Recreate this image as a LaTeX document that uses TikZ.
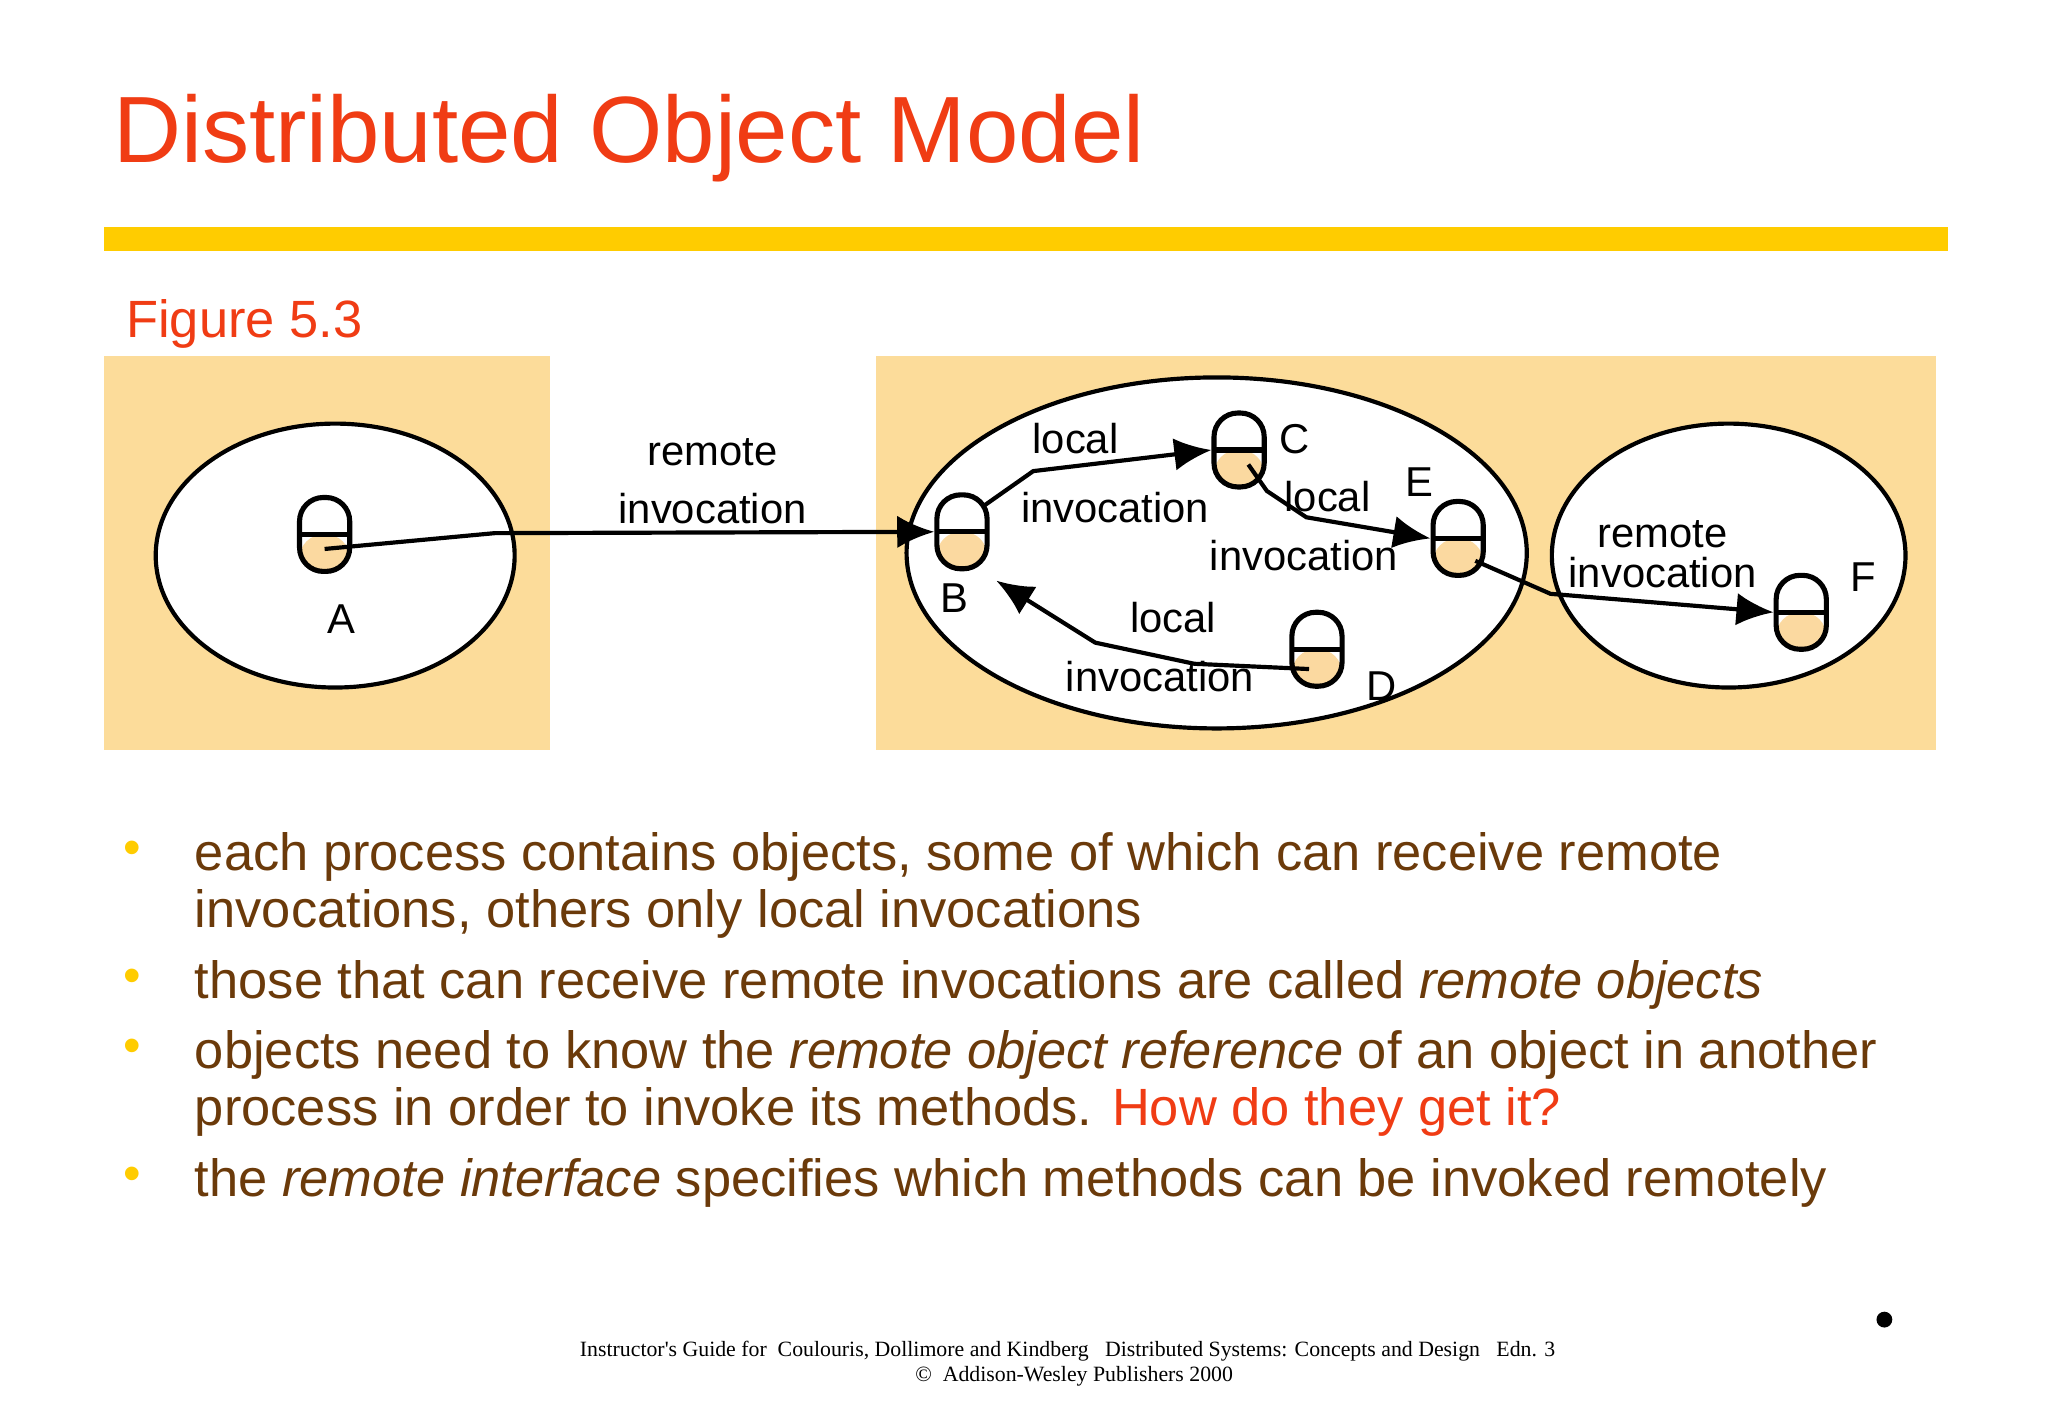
\documentclass[tikz,border=0pt]{standalone}
\usepackage{fontspec}
\setmainfont{Liberation Sans}
\newfontfamily\footfont{Liberation Serif}
\usetikzlibrary{arrows.meta}
\definecolor{titlec}{HTML}{F03C14}
\definecolor{barc}{HTML}{FFCC00}
\definecolor{boxc}{HTML}{FCDC9A}
\definecolor{textc}{HTML}{6B3A0A}
\definecolor{objc}{HTML}{FBD9A0}
\tikzset{
 obj/.style={draw,line width=1.1pt,minimum width=0.38cm,minimum height=0.56cm,rounded corners=0.18cm,inner sep=0pt,
  path picture={\fill[objc] (path picture bounding box.west) rectangle (path picture bounding box.south east);
   \draw[line width=1.1pt] (path picture bounding box.west) -- (path picture bounding box.east);}},
 lbl/.style={font=\fontsize{9}{10.5}\selectfont,align=center,inner sep=0pt},
 conn/.style={line width=0.9pt,-{Latex[length=8pt,width=7pt]}},
 proc/.style={draw,line width=0.9pt,fill=white},
 bul/.style={anchor=base west,font=\fontsize{11.3}{12.3}\selectfont,text=textc,inner sep=0pt,align=left},
 dot/.style={anchor=base,text=barc,font=\fontsize{10.8}{12}\selectfont,inner sep=0pt}
}
\begin{document}
\begin{tikzpicture}[x=0.01cm,y=-0.01cm]
\useasboundingbox[fill=white] (0,0) rectangle (1552,1075);
\node[anchor=base west,inner sep=0pt,text=titlec,font=\fontsize{20.3}{24}\selectfont] (title) at (85,123) {Distributed Object Model};
\fill[barc] (79,172) rectangle (1476,190);
\node[anchor=base west,inner sep=0pt,text=titlec,font=\fontsize{11.3}{13}\selectfont] (fig) at (95,256) {Figure 5.3};
\fill[boxc] (79,270) rectangle (417,568);
\fill[boxc] (664,270) rectangle (1467,568);
\draw[proc] (254,421) ellipse [x radius=136,y radius=100];
\draw[proc] (922,419) ellipse [x radius=235,y radius=133];
\draw[proc] (1310,421) ellipse [x radius=134,y radius=100];
\node[obj] (A) at (246,405) {};
\node[obj] (B) at (729,403) {};
\node[obj] (C) at (939,341) {};
\node[obj] (E) at (1105,408) {};
\node[obj] (D) at (998,492) {};
\node[obj] (F) at (1365,464) {};
\draw[conn] (A.center)++(0,11) -- (375,404) -- (B.west);
\draw[conn] (B.center)++(17,-20) -- (783,357) -- (C.west);
\draw[conn] (C.center)++(7,11) -- (960,372) -- (990,392) -- (E.west);
\draw[conn] (E.center)++(13,17) -- (1175,450) -- (F.west);
\draw[conn] (D.center)++(-6,15) -- (905,503) -- (830,487) -- (755,440);
\node[lbl] at (540,365) {remote\\[2pt]invocation};
\node[lbl] at (815,332) {local};
\node[lbl] at (845,385) {invocation};
\node[lbl] at (981,333) {C};
\node[lbl] at (1006,376) {local};
\node[lbl] at (1076,365) {E};
\node[lbl] at (988,421) {invocation};
\node[lbl] at (723,453) {B};
\node[lbl] at (259,469) {A};
\node[lbl] at (889,468) {local};
\node[lbl] at (879,513) {invocation};
\node[lbl] at (1047,520) {D};
\node[lbl] at (1260,420) {remote\\[-2pt]invocation};
\node[lbl] at (1412,437) {F};
\node[dot] at (100,655) {•};
\node[bul] at (147,703) {each process contains objects, some of which can receive remote\\invocations, others only local invocations};
\node[dot] at (100,752) {•};
\node[bul] at (147,757) {those that can receive remote invocations are called \emph{remote objects}};
\node[dot] at (100,805) {•};
\node[bul] at (147,853) {objects need to know the \emph{remote object reference} of an object in another\\process in order to invoke its methods. \textcolor{titlec}{How do they get it?}};
\node[dot] at (100,902) {•};
\node[bul] at (147,907) {the \emph{remote interface} specifies which methods can be invoked remotely};
\node[anchor=base,inner sep=0pt,font=\footfont\fontsize{4.7}{5.6}\selectfont,align=center] at (809,1028) {Instructor's Guide for\ \ Coulouris, Dollimore and Kindberg\ \ \ Distributed Systems: Concepts and Design\ \ \ Edn. 3};
\node[anchor=base,inner sep=0pt,font=\footfont\fontsize{4.7}{5.6}\selectfont] at (814,1047) {©\ \ Addison-Wesley Publishers 2000};
\fill (1428,1000) circle (6);
\end{tikzpicture}
\end{document}
